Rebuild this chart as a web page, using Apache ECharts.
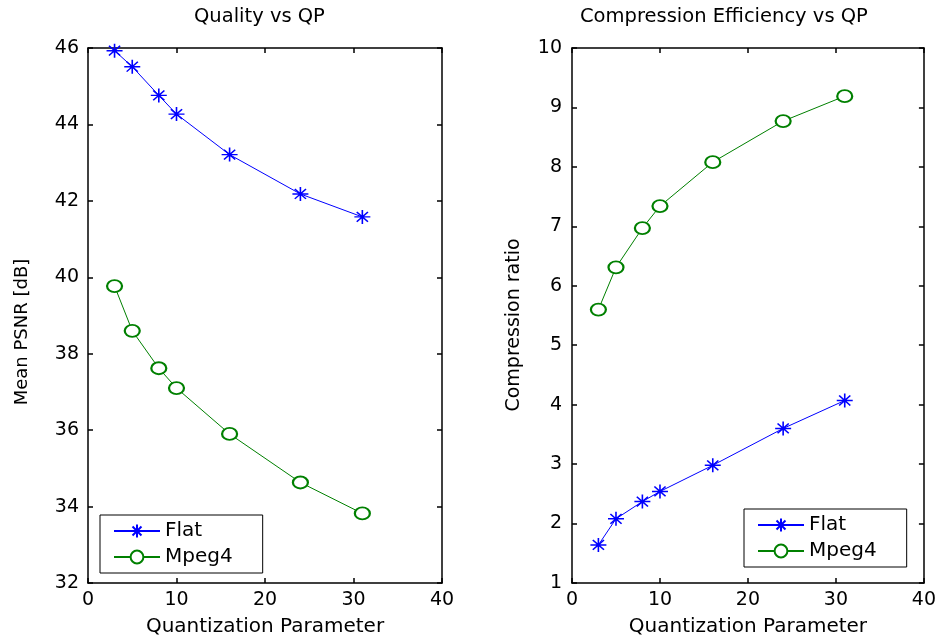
<!DOCTYPE html>
<html lang="en" style="height: 100%">
<head>
  <meta charset="utf-8">
</head>
<body style="height: 100%; margin: 0; background: #fff">
  <div id="container" style="width: 939px; height: 642px"></div>

  <script type="text/javascript" src="https://cdn.jsdelivr.net/npm/echarts@6/dist/echarts.min.js"></script>
  <script type="text/javascript">
// quantization parameter values (x)
var qp = [3, 5, 8, 10, 16, 24, 31];
// left plot: mean PSNR [dB]
var psnrFlat = [45.93, 45.51, 44.76, 44.27, 43.21, 42.18, 41.58];
var psnrMpeg4 = [39.77, 38.60, 37.62, 37.10, 35.90, 34.63, 33.82];
// right plot: compression ratio
var ratioFlat = [1.64, 2.08, 2.37, 2.54, 2.98, 3.60, 4.07];
var ratioMpeg4 = [5.60, 6.31, 6.97, 7.34, 8.08, 8.77, 9.19];

var seriesNames = ['Flat', 'Mpeg4'];
var titles = ['Quality vs QP', 'Compression Efficiency vs QP'];

var dom = document.getElementById('container');
var myChart = echarts.init(dom, null, { renderer: 'canvas' });

var FONT = 'DejaVu Sans';
var BLUE = '#0000ff';
var GREEN = '#008000';
// MATLAB style '*' marker
var STAR = 'path://M8,0L8,16M0,8L16,8M2.4,2.4L13.6,13.6M2.4,13.6L13.6,2.4';

function pairs(xs, ys) {
  return xs.map(function (x, i) { return [x, ys[i]]; });
}

function frameAxis(extra) {
  var base = {
    type: 'value',
    axisLine: { show: true, onZero: false, lineStyle: { color: '#000', width: 1.5 } },
    axisTick: { show: true, inside: true, length: 5, lineStyle: { color: '#000', width: 1.5 } },
    axisLabel: { show: false },
    splitLine: { show: false }
  };
  return Object.assign(base, extra);
}

var labelStyle = { show: true, color: '#000', fontFamily: FONT, fontSize: 19 };

function flatSeries(xi, yi, data) {
  return {
    name: 'Flat', type: 'line', xAxisIndex: xi, yAxisIndex: yi,
    data: data, symbol: STAR, symbolSize: [16, 14],
    itemStyle: { color: BLUE, borderColor: BLUE, borderWidth: 1.5 },
    lineStyle: { color: BLUE, width: 1 }
  };
}
function mpegSeries(xi, yi, data) {
  return {
    name: 'Mpeg4', type: 'line', xAxisIndex: xi, yAxisIndex: yi,
    data: data, symbol: 'emptyCircle', symbolSize: [15, 12],
    itemStyle: { color: GREEN, borderColor: GREEN, borderWidth: 1.5 },
    lineStyle: { color: GREEN, width: 1 }
  };
}

function legendBox(left, top) {
  return {
    data: seriesNames, orient: 'vertical', left: left, top: top,
    itemWidth: 46, itemHeight: 16, itemGap: 6,
    padding: [6, 30, 6, 13],
    borderColor: '#000', borderWidth: 1, backgroundColor: '#fff',
    textStyle: { color: '#000', fontFamily: FONT, fontSize: 20 }
  };
}

var xName = {
  name: 'Quantization Parameter', nameLocation: 'middle', nameGap: 34,
  nameTextStyle: { color: '#000', fontFamily: FONT, fontSize: 20 }
};

var option = {
  animation: false,
  backgroundColor: '#fff',
  title: [
    { text: titles[0], left: 194, top: 7, padding: 0,
      textStyle: { color: '#000', fontFamily: FONT, fontSize: 19.5, fontWeight: 'normal' } },
    { text: titles[1], left: 580, top: 7, padding: 0,
      textStyle: { color: '#000', fontFamily: FONT, fontSize: 19.5, fontWeight: 'normal' } }
  ],
  legend: [legendBox(100, 515), legendBox(744, 509)],
  grid: [
    { left: 88, top: 48, width: 354, height: 535 },
    { left: 572, top: 48, width: 354, height: 535 }
  ],
  xAxis: [
    frameAxis(Object.assign({ gridIndex: 0, position: 'bottom', min: 0, max: 40, interval: 10,
      axisLabel: Object.assign({ margin: 8 }, labelStyle) }, xName)),
    frameAxis({ gridIndex: 0, position: 'top', min: 0, max: 40, interval: 10 }),
    frameAxis(Object.assign({ gridIndex: 1, position: 'bottom', min: 0, max: 40, interval: 10,
      axisLabel: Object.assign({ margin: 8 }, labelStyle) }, xName)),
    frameAxis({ gridIndex: 1, position: 'top', min: 0, max: 40, interval: 10 })
  ],
  yAxis: [
    frameAxis({ gridIndex: 0, position: 'left', min: 32, max: 46, interval: 2,
      axisLabel: Object.assign({ margin: 9 }, labelStyle),
      name: 'Mean PSNR [dB]', nameLocation: 'middle', nameGap: 57,
      nameTextStyle: { color: '#000', fontFamily: FONT, fontSize: 18, padding: [0, 33, 0, 0] } }),
    frameAxis({ gridIndex: 0, position: 'right', min: 32, max: 46, interval: 2 }),
    frameAxis({ gridIndex: 1, position: 'left', min: 1, max: 10, interval: 1,
      axisLabel: Object.assign({ margin: 10 }, labelStyle),
      name: 'Compression ratio', nameLocation: 'middle', nameGap: 48,
      nameTextStyle: { color: '#000', fontFamily: FONT, fontSize: 19, padding: [0, 19, 0, 0] } }),
    frameAxis({ gridIndex: 1, position: 'right', min: 1, max: 10, interval: 1 })
  ],
  series: [
    flatSeries(0, 0, pairs(qp, psnrFlat)),
    mpegSeries(0, 0, pairs(qp, psnrMpeg4)),
    flatSeries(2, 2, pairs(qp, ratioFlat)),
    mpegSeries(2, 2, pairs(qp, ratioMpeg4))
  ]
};

myChart.setOption(option);
window.addEventListener('resize', myChart.resize);
  </script>
</body>
</html>
